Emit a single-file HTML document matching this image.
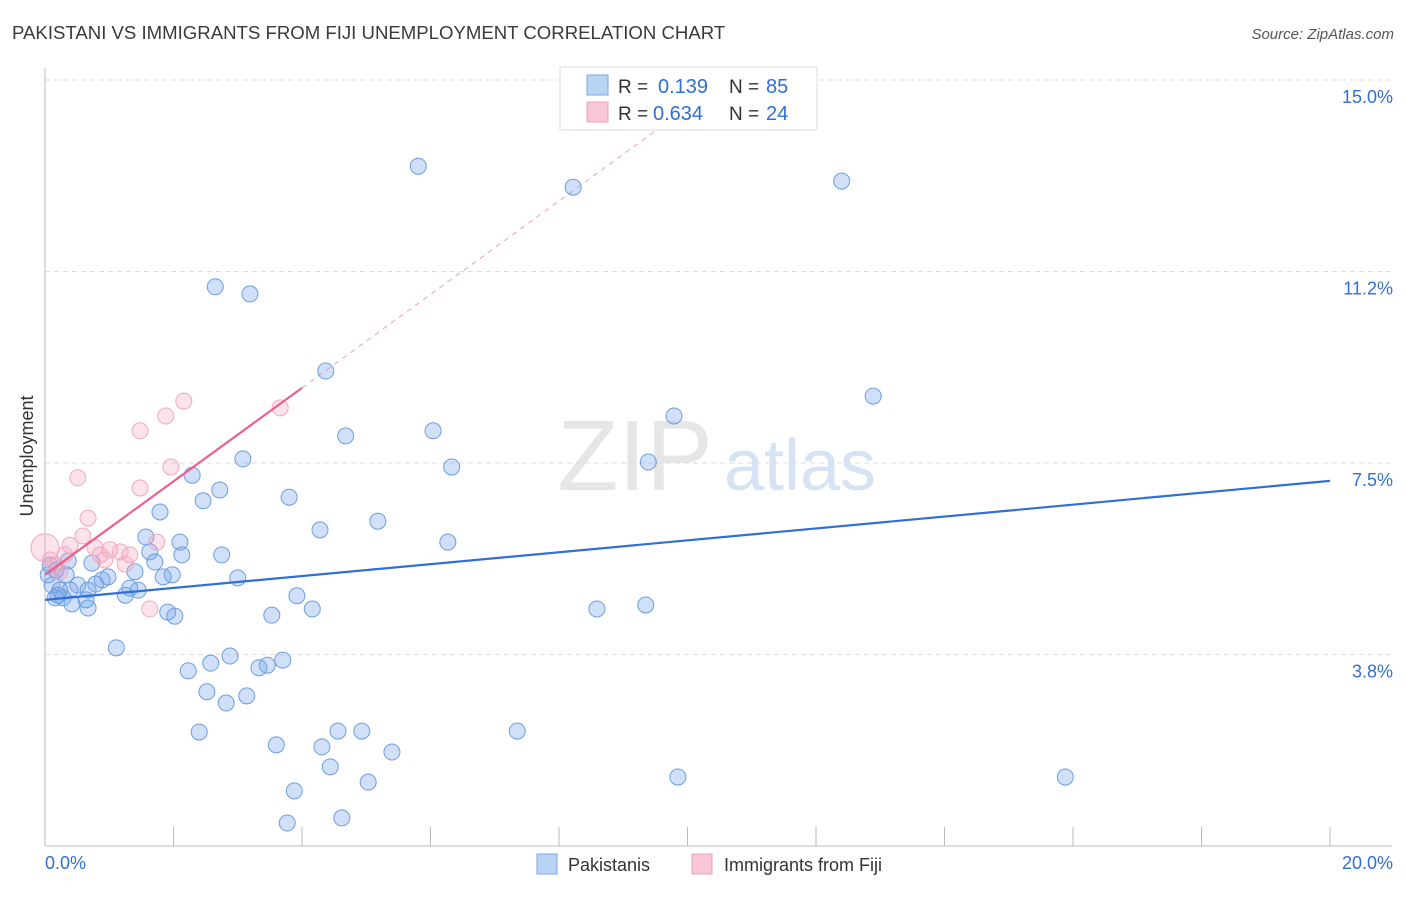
<!DOCTYPE html>
<html><head><meta charset="utf-8"><style>
body{margin:0;background:#fff;font-family:"Liberation Sans",sans-serif}
svg text{font-family:"Liberation Sans",sans-serif}
</style></head><body>
<svg id="chart" width="1406" height="892" viewBox="0 0 1406 892">
<text x="12" y="39" font-size="18.6" fill="#3a3a3a">PAKISTANI VS IMMIGRANTS FROM FIJI UNEMPLOYMENT CORRELATION CHART</text>
<text x="1394" y="39" font-size="15" fill="#555" text-anchor="end" font-style="italic">Source: ZipAtlas.com</text>
<text x="635" y="490" font-size="100" fill="#e6e6e6" font-family="Liberation Serif" text-anchor="middle">ZIP</text>
<text x="800" y="490" font-size="72" fill="#d6e3f5" text-anchor="middle">atlas</text>
<g id="grid"></g>
<g id="axes"></g>
<g id="lines"></g>
<g id="points"></g>
<text transform="translate(33,456) rotate(-90)" font-size="18" fill="#333" text-anchor="middle">Unemployment</text>
<g>
<rect x="560" y="67" width="257" height="63" fill="#fff" stroke="#ddd"/>
<rect x="587" y="75" width="21" height="20" fill="#b9d3f5" stroke="#7aa6e6"/>
<rect x="587" y="102" width="21" height="20" fill="#f8c6d6" stroke="#eda0b8"/>
<text x="618" y="93" font-size="19" fill="#333">R = </text><text x="658" y="93" font-size="20" fill="#2f6fd6">0.139</text>
<text x="729" y="93" font-size="19" fill="#333">N = </text><text x="766" y="93" font-size="20" fill="#2f6fd6">85</text>
<text x="618" y="120" font-size="19" fill="#333">R = </text><text x="653" y="120" font-size="20" fill="#2f6fd6">0.634</text>
<text x="729" y="120" font-size="19" fill="#333">N = </text><text x="766" y="120" font-size="20" fill="#2f6fd6">24</text>
</g>
<g>
<rect x="537" y="854" width="20" height="20" fill="#b9d3f5" stroke="#7aa6e6"/>
<text x="568" y="871" font-size="18" fill="#333">Pakistanis</text>
<rect x="692" y="854" width="20" height="20" fill="#f8c6d6" stroke="#eda0b8"/>
<text x="724" y="871" font-size="18" fill="#333">Immigrants from Fiji</text>
</g>
</svg>
<script>
const blueX=[5.81,8.22,12.40,2.65,3.19,4.37,12.89,9.79,4.68,6.04,3.08,6.33,9.39,2.29,2.72,3.80,2.46,1.79,5.18,4.28,6.27,2.10,1.57,2.75,2.13,1.63,1.71,0.73,0.36,1.40,1.98,1.84,3.00,0.89,0.51,0.79,0.11,0.23,1.25,1.45,1.32,0.39,0.67,0.16,0.28,0.42,0.67,3.92,1.91,2.02,3.53,4.16,8.59,9.35,1.11,2.88,2.58,3.70,3.46,3.33,2.23,2.52,3.14,2.82,2.40,4.56,4.93,7.35,3.60,4.31,5.40,4.44,5.03,9.85,15.88,3.88,3.77,4.62,0.08,0.05,0.17,0.33,0.98,0.20,0.64];
const blueY=[13.31,12.90,13.02,10.95,10.81,9.30,8.81,8.42,8.03,8.13,7.58,7.42,7.52,7.26,6.97,6.83,6.76,6.54,6.36,6.19,5.95,5.95,6.05,5.70,5.70,5.76,5.56,5.54,5.58,5.37,5.31,5.27,5.25,5.21,5.11,5.13,5.11,5.01,4.91,5.01,5.05,5.01,5.01,4.86,4.86,4.74,4.66,4.90,4.58,4.50,4.52,4.64,4.64,4.72,3.88,3.72,3.58,3.64,3.54,3.49,3.43,3.02,2.94,2.80,2.23,2.25,2.25,2.25,1.98,1.94,1.84,1.55,1.25,1.35,1.35,1.08,0.45,0.55,5.50,5.31,5.40,5.31,5.27,4.91,4.82];
const pinkX=[0,0.51,1.48,1.88,2.16,3.66,1.96,1.48,0.67,0.59,0.39,0.86,1.01,1.17,1.32,1.74,1.25,1.63,0.16,0.23,0.08,0.93,0.78,0.31];
const pinkY=[5.84,7.21,8.13,8.42,8.71,8.58,7.42,7.01,6.42,6.07,5.89,5.70,5.80,5.76,5.70,5.95,5.52,4.64,5.50,5.37,5.60,5.60,5.84,5.70];
const yTicks=[15.0,11.25,7.5,3.75];
const yTickLabels=["15.0%","11.2%","7.5%","3.8%"];
const blueTrend=[4.82,7.15];
const pinkTrend=[5.31,8.97];
const NS="http://www.w3.org/2000/svg";
const X=v=>45+v*64.25, Y=v=>846-v*51.07;
function mk(tag,attrs,parent){const e=document.createElementNS(NS,tag);for(const k in attrs)e.setAttribute(k,attrs[k]);document.getElementById(parent).appendChild(e);return e;}
yTicks.forEach((t,i)=>{
 const g=mk('line',{x1:45,x2:1392,y1:Y(t),y2:Y(t),stroke:'#ddd','stroke-dasharray':'5,4'},'grid');
 
 
 const tx=mk('text',{x:1393,y:Y(t)+23,'font-size':18,fill:'#2f6fd6','text-anchor':'end'},'axes');
 tx.textContent=yTickLabels[i];
 
 
});
mk('line',{x1:45,x2:45,y1:68,y2:846,stroke:'#bbb'},'axes');
mk('line',{x1:45,x2:1392,y1:846,y2:846,stroke:'#bbb'},'axes');
for(let i=0;i<=10;i++){const l=mk('line',{x1:X(i*2),x2:X(i*2),y1:827,y2:846,stroke:'#bbb'},'axes');}
const xl=mk('text',{x:45,y:869,'font-size':18,fill:'#2f6fd6'},'axes');xl.textContent='0.0%';


const xr=mk('text',{x:1393,y:869,'font-size':18,fill:'#2f6fd6','text-anchor':'end'},'axes');xr.textContent='20.0%';


const slope=(pinkTrend[1]-pinkTrend[0])/4;
const xEnd=(15-pinkTrend[0])/slope;
const pd=mk('line',{x1:X(4),y1:Y(pinkTrend[1]),x2:X(xEnd),y2:Y(15),stroke:'#eaa0b8','stroke-dasharray':'5,5'},'lines');


bluePts();
function bluePts(){
 blueX.forEach((v,i)=>{const c=mk('circle',{cx:X(v),cy:Y(blueY[i]),r:8,fill:'rgba(120,165,235,0.35)',stroke:'#6d9de0','stroke-width':1},'points');
 
 });
 pinkX.forEach((v,i)=>{const c=mk('circle',{cx:X(v),cy:Y(pinkY[i]),r:i==0?14:8,fill:'rgba(245,160,190,0.3)',stroke:'#eeaac0','stroke-width':1},'points');
 
 });
}
const bl=mk('line',{x1:X(0),y1:Y(blueTrend[0]),x2:X(20),y2:Y(blueTrend[1]),stroke:'#2f6fd6','stroke-width':2.2},'points');


const pl=mk('line',{x1:X(0),y1:Y(pinkTrend[0]),x2:X(4),y2:Y(pinkTrend[1]),stroke:'#e8608c','stroke-width':2.2},'points');


</script>
</body></html>
